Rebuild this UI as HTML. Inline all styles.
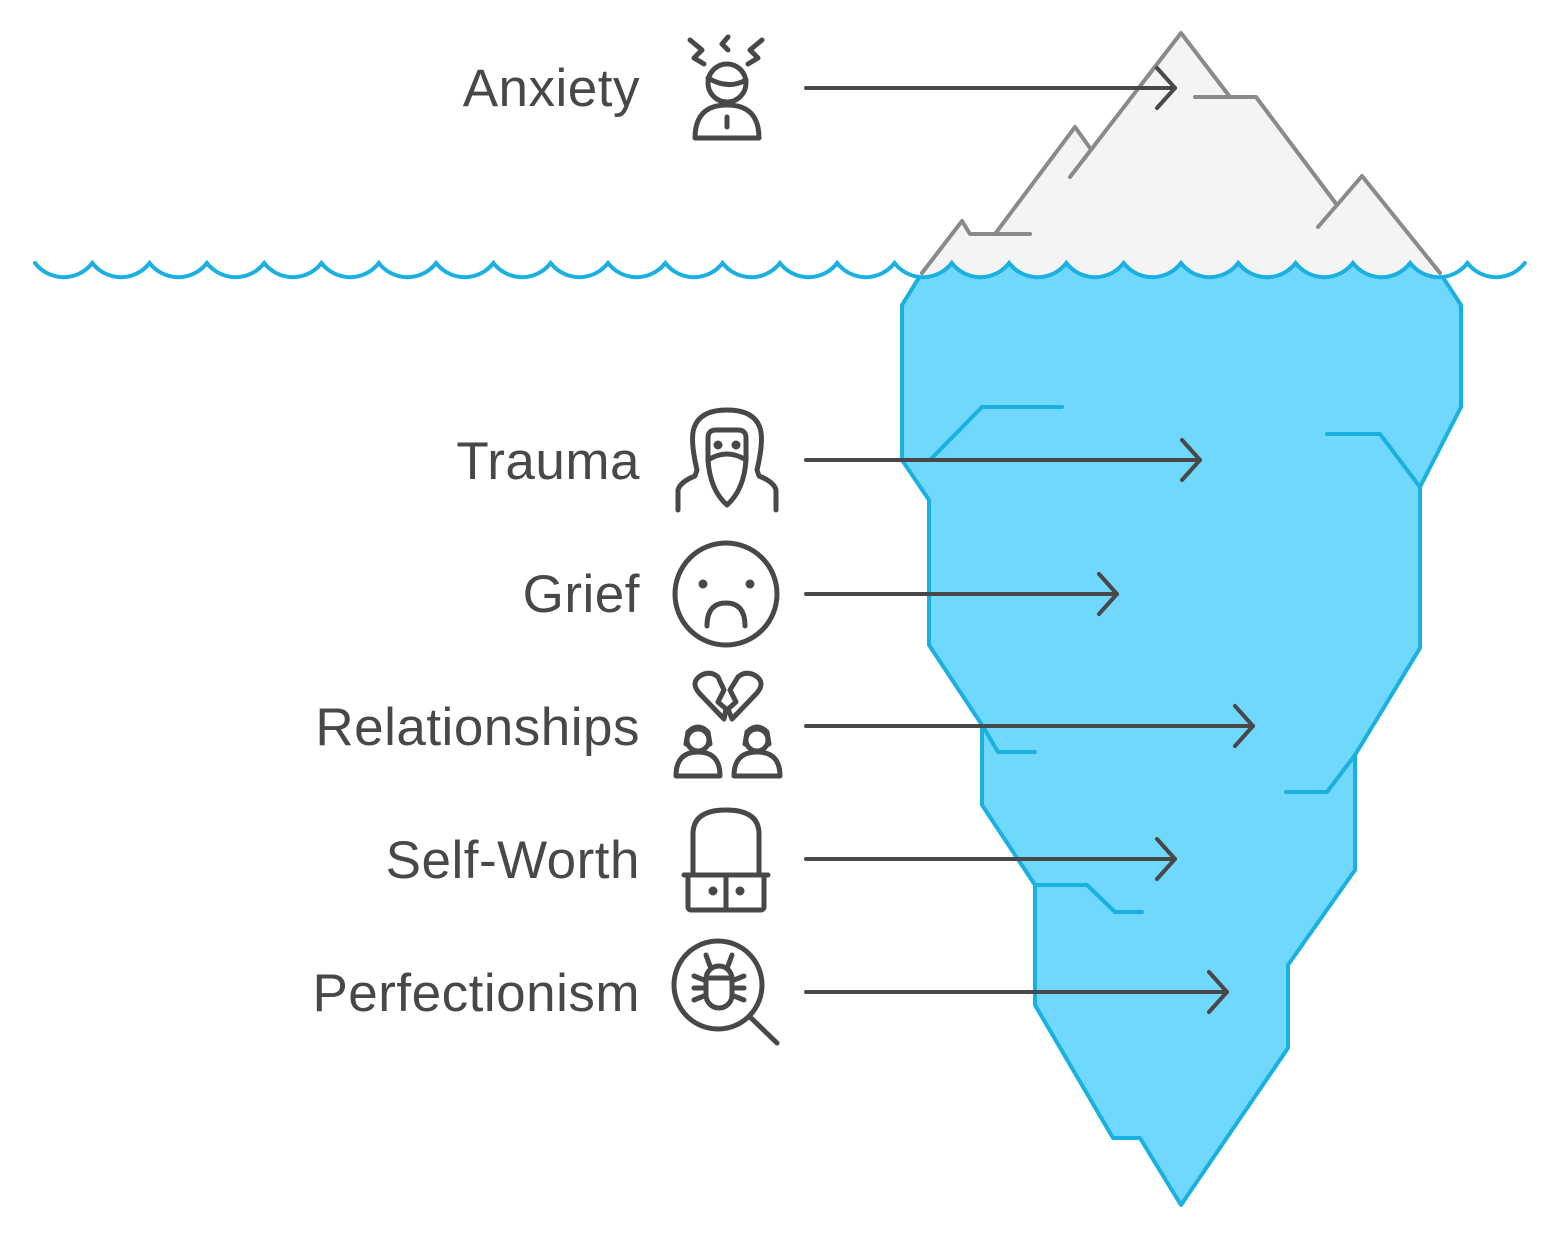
<!DOCTYPE html>
<html><head><meta charset="utf-8"><style>
html,body{margin:0;padding:0;background:#fff;}
svg{display:block}
text{font-family:"Liberation Sans",Arial,sans-serif;font-size:53px;fill:#484848;letter-spacing:0.5px}
</style></head><body>
<svg width="1562" height="1241" viewBox="0 0 1562 1241" xmlns="http://www.w3.org/2000/svg">
<defs>
<path id="wave" d="M35,263 a36,36 0 0 0 57.3,0 a36,36 0 0 0 57.3,0 a36,36 0 0 0 57.3,0 a36,36 0 0 0 57.3,0 a36,36 0 0 0 57.3,0 a36,36 0 0 0 57.3,0 a36,36 0 0 0 57.3,0 a36,36 0 0 0 57.3,0 a36,36 0 0 0 57.3,0 a36,36 0 0 0 57.3,0 a36,36 0 0 0 57.3,0 a36,36 0 0 0 57.3,0 a36,36 0 0 0 57.3,0 a36,36 0 0 0 57.3,0 a36,36 0 0 0 57.3,0 a36,36 0 0 0 57.3,0 a36,36 0 0 0 57.3,0 a36,36 0 0 0 57.3,0 a36,36 0 0 0 57.3,0 a36,36 0 0 0 57.3,0 a36,36 0 0 0 57.3,0 a36,36 0 0 0 57.3,0 a36,36 0 0 0 57.3,0 a36,36 0 0 0 57.3,0 a36,36 0 0 0 57.3,0 a36,36 0 0 0 57.3,0"/>
<clipPath id="below">
<path d="M0,263 L35,263 a36,36 0 0 0 57.3,0 a36,36 0 0 0 57.3,0 a36,36 0 0 0 57.3,0 a36,36 0 0 0 57.3,0 a36,36 0 0 0 57.3,0 a36,36 0 0 0 57.3,0 a36,36 0 0 0 57.3,0 a36,36 0 0 0 57.3,0 a36,36 0 0 0 57.3,0 a36,36 0 0 0 57.3,0 a36,36 0 0 0 57.3,0 a36,36 0 0 0 57.3,0 a36,36 0 0 0 57.3,0 a36,36 0 0 0 57.3,0 a36,36 0 0 0 57.3,0 a36,36 0 0 0 57.3,0 a36,36 0 0 0 57.3,0 a36,36 0 0 0 57.3,0 a36,36 0 0 0 57.3,0 a36,36 0 0 0 57.3,0 a36,36 0 0 0 57.3,0 a36,36 0 0 0 57.3,0 a36,36 0 0 0 57.3,0 a36,36 0 0 0 57.3,0 a36,36 0 0 0 57.3,0 a36,36 0 0 0 57.3,0 L1562,263 L1562,1241 L0,1241 Z"/>
</clipPath>
</defs>
<!-- iceberg top -->
<polygon points="909,290 962,221 970,234 995,234 1075,127 1090,148 1181,33 1230,97 1256,97 1337,205 1362,176 1454,290" fill="#f4f4f4"/>
<g fill="none" stroke="#8a8a8a" stroke-width="4" stroke-linecap="round" stroke-linejoin="round">
<polyline points="922,273 962,221 970,234 1030,234"/>
<polyline points="995,234 1075,127 1090,148"/>
<polyline points="1070,177 1181,33 1230,97"/>
<polyline points="1195,97 1256,97 1337,205"/>
<polyline points="1318,227 1362,176 1440,273"/>
</g>
<!-- iceberg body -->
<g clip-path="url(#below)">
<polygon points="936,250 902,305 902,460 929,500 929,645 982,725 982,805 1035,885 1035,1005 1113,1138 1140,1138 1181,1205 1288,1048 1288,965 1355,870 1355,755 1420,648 1420,487 1461,407 1461,305 1425,250" fill="#6fd8fc" stroke="#1ab0e0" stroke-width="4" stroke-linejoin="round"/>
</g>
<g fill="none" stroke="#1ab0e0" stroke-width="4" stroke-linecap="round" stroke-linejoin="round">
<polyline points="930,460 982,407 1062,407"/>
<polyline points="1327,434 1380,434 1420,487"/>
<polyline points="982,725 998,752 1035,752"/>
<polyline points="1286,792 1327,792 1355,755"/>
<polyline points="1035,885 1087,885 1115,912 1142,912"/>
</g>
<!-- waves -->
<use href="#wave" fill="none" stroke="#1ab0e0" stroke-width="4" stroke-linecap="round"/>
<!-- arrows -->
<g fill="none" stroke="#484848" stroke-width="4" stroke-linecap="round" stroke-linejoin="round">
<line x1="806" y1="88" x2="1175" y2="88"/><polyline points="1157,68 1175,88 1157,108"/>
<line x1="806" y1="460" x2="1200" y2="460"/><polyline points="1182,440 1200,460 1182,480"/>
<line x1="806" y1="594" x2="1117" y2="594"/><polyline points="1099,574 1117,594 1099,614"/>
<line x1="806" y1="726" x2="1253" y2="726"/><polyline points="1235,706 1253,726 1235,746"/>
<line x1="806" y1="859" x2="1175" y2="859"/><polyline points="1157,839 1175,859 1157,879"/>
<line x1="806" y1="992" x2="1227" y2="992"/><polyline points="1209,972 1227,992 1209,1012"/>
</g>
<!-- labels -->
<g text-anchor="end">
<text x="640" y="106">Anxiety</text>
<text x="640" y="479">Trauma</text>
<text x="640" y="612">Grief</text>
<text x="640" y="745">Relationships</text>
<text x="640" y="878">Self-Worth</text>
<text x="640" y="1011">Perfectionism</text>
</g>
<!-- icons -->
<g fill="none" stroke="#484848" stroke-width="5" stroke-linecap="round" stroke-linejoin="round">
<polyline points="690,40 702,50 694,58 704,64"/>
<polyline points="728,37 722,44 728,50"/>
<polyline points="762,40 750,50 758,58 748,64"/>
<circle cx="727" cy="83" r="19"/>
<path d="M708,78 Q728,90 746,80"/>
<path d="M695,138 Q695,105 727,105 Q759,105 759,138 Z"/>
<line x1="727" y1="117" x2="727" y2="127"/>
<path d="M678,510 L678,490 Q680,482 695,476 L697,470 Q690,440 694,428 Q700,410 727,410 Q754,410 760,428 Q764,440 757,470 L759,476 Q774,482 776,490 L776,510"/>
<path d="M708,460 L708,438 Q708,430 716,430 L738,430 Q746,430 746,438 L746,460 Q744,490 727,505 Q710,490 708,460 Z"/>
<path d="M708,460 Q727,448 746,460"/>
<circle cx="718" cy="445" r="2" fill="#484848"/><circle cx="736" cy="445" r="2" fill="#484848"/>
<circle cx="726" cy="594" r="51"/>
<circle cx="703" cy="584" r="2" fill="#484848"/><circle cx="750" cy="584" r="2" fill="#484848"/>
<path d="M707,626 Q707,603 726,603 Q745,603 745,626"/>
<path d="M724,719 L700,694 Q690,683 700,676 Q710,670 718,677 L724,690 L718,702 L726,709 Z"/>
<path d="M732,719 L756,694 Q766,683 756,676 Q746,670 738,677 L730,690 L736,702 L728,709 Z"/>
<circle cx="698" cy="740" r="11"/><path d="M676,776 Q676,752 698,752 Q720,752 720,776 Z"/>
<circle cx="757" cy="740" r="11"/><path d="M734,776 Q734,752 757,752 Q780,752 780,776 Z"/>
<path d="M686,744 L688,732 Q698,722 708,732 L710,744"/><path d="M745,744 L747,732 Q757,722 767,732 L769,744"/>
<path d="M693,875 L693,834 Q693,810 726,810 Q759,810 759,834 L759,875"/>
<line x1="684" y1="875" x2="768" y2="875"/>
<rect x="688" y="875" width="76" height="35" rx="3"/>
<line x1="726" y1="875" x2="726" y2="910"/>
<circle cx="713" cy="891" r="2" fill="#484848"/><circle cx="740" cy="891" r="2" fill="#484848"/>
<circle cx="718" cy="985" r="44"/>
<line x1="750" y1="1017" x2="777" y2="1043"/>
<rect x="706" y="966" width="26" height="42" rx="13"/>
<line x1="706" y1="978" x2="732" y2="978"/>
<polyline points="710,966 706,955"/><polyline points="728,966 732,955"/>
<line x1="694" y1="976" x2="704" y2="980"/><line x1="694" y1="988" x2="704" y2="988"/><line x1="694" y1="1000" x2="704" y2="996"/>
<line x1="744" y1="976" x2="734" y2="980"/><line x1="744" y1="988" x2="734" y2="988"/><line x1="744" y1="1000" x2="734" y2="996"/>
</g>
</svg>
</body></html>
